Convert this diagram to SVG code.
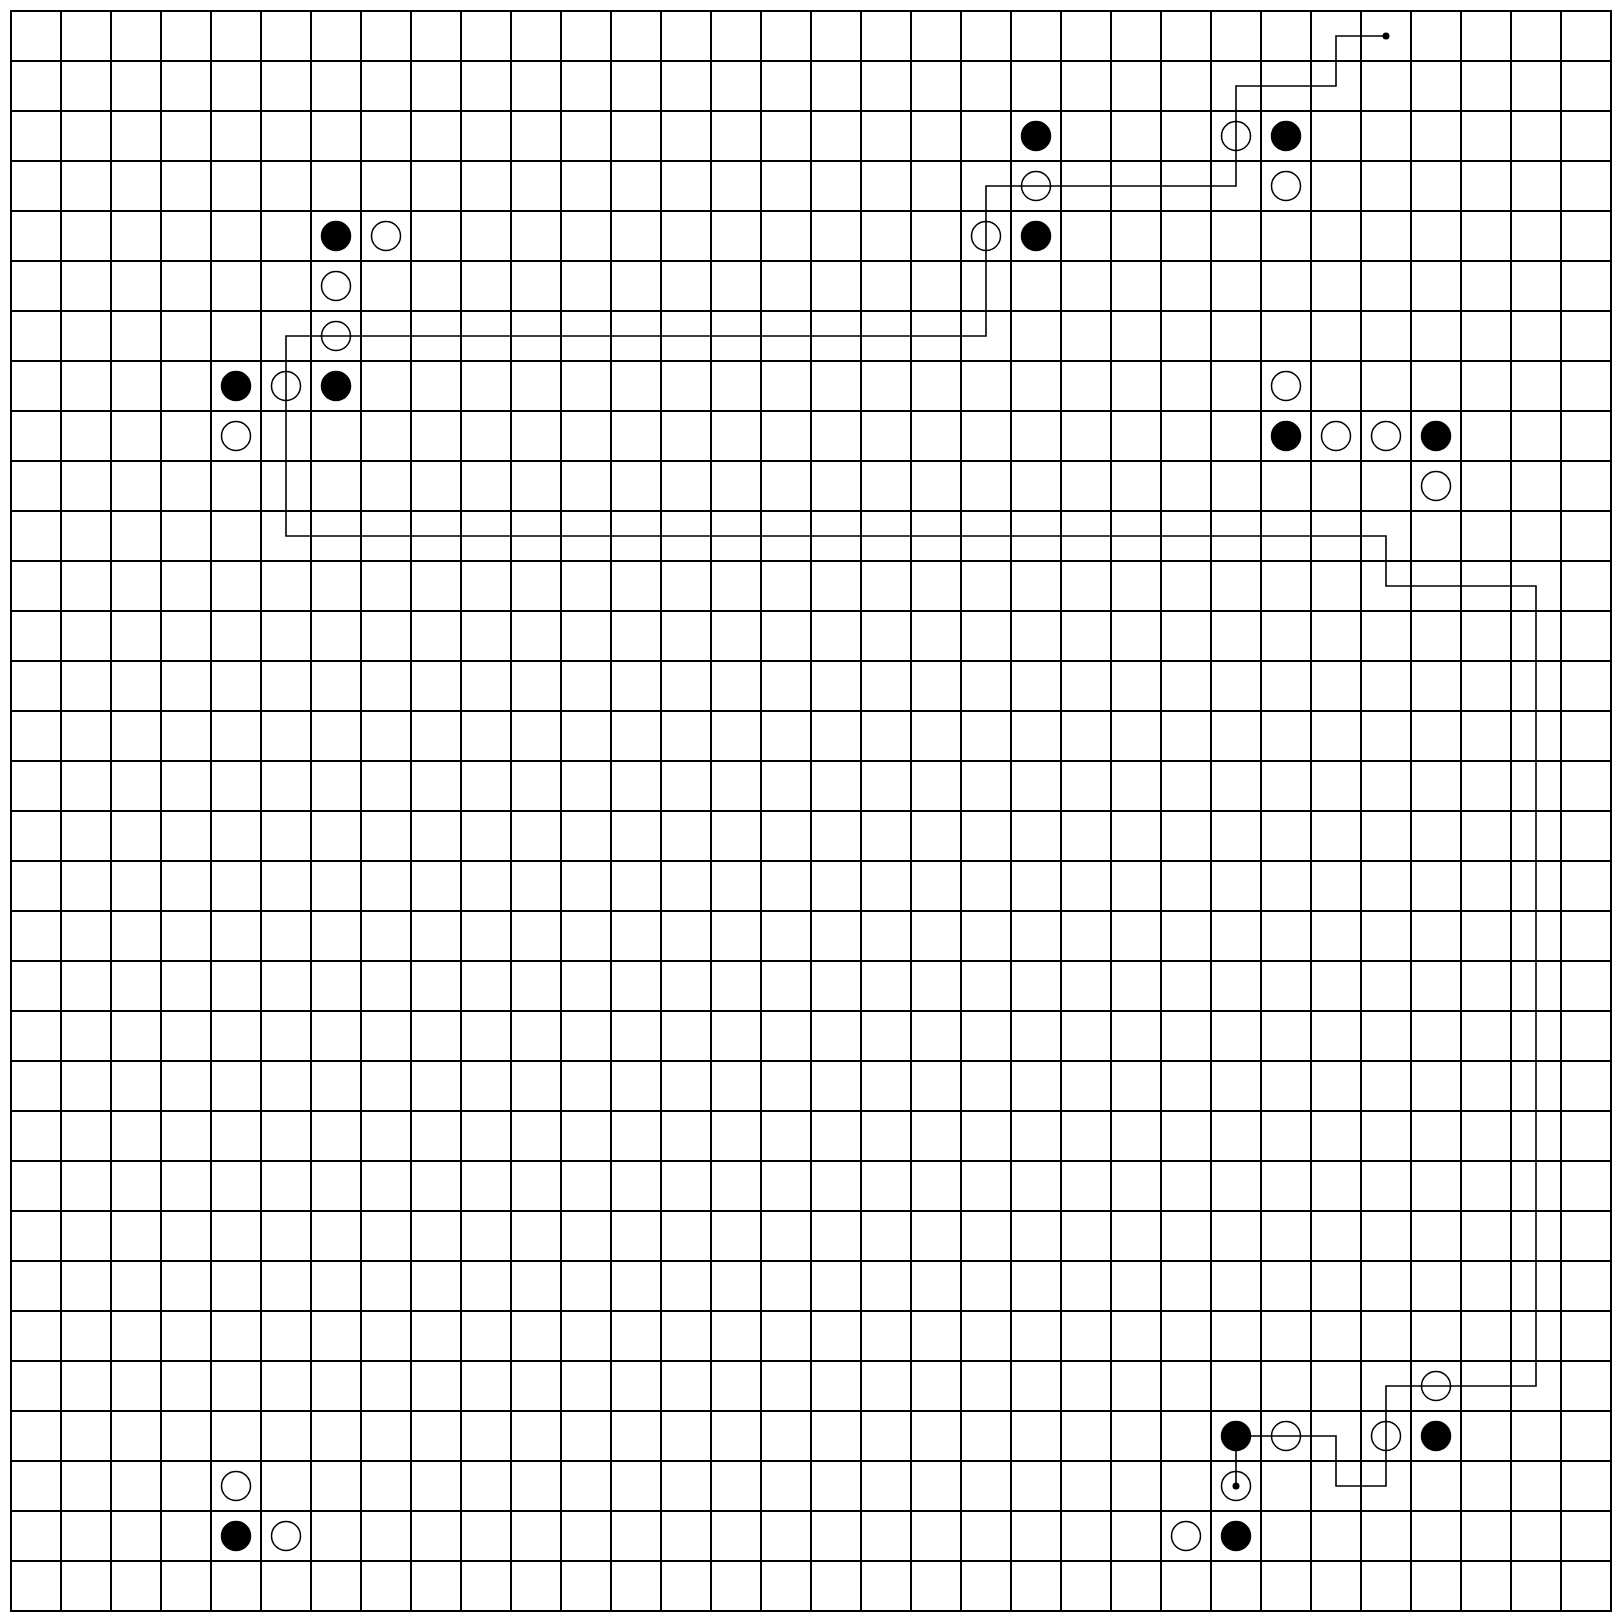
<svg xmlns="http://www.w3.org/2000/svg" width="1620" height="1620" viewBox="0 0 1620 1620">
<style>
.grid{fill:none;stroke:#000;stroke-width:2}
.b{fill:#000;stroke:#000;stroke-width:1.5}
.w{fill:none;stroke:#000;stroke-width:1.5}
.route{fill:none;stroke:#000;stroke-width:1.6}
</style>
<rect width="1620" height="1620" fill="#fff"/>
<g id="grid">
<path class="grid" d="M11 10V1612M61 10V1612M111 10V1612M161 10V1612M211 10V1612M261 10V1612M311 10V1612M361 10V1612M411 10V1612M461 10V1612M511 10V1612M561 10V1612M611 10V1612M661 10V1612M711 10V1612M761 10V1612M811 10V1612M861 10V1612M911 10V1612M961 10V1612M1011 10V1612M1061 10V1612M1111 10V1612M1161 10V1612M1211 10V1612M1261 10V1612M1311 10V1612M1361 10V1612M1411 10V1612M1461 10V1612M1511 10V1612M1561 10V1612M1611 10V1612"/>
<path class="grid" d="M10 11H1612M10 61H1612M10 111H1612M10 161H1612M10 211H1612M10 261H1612M10 311H1612M10 361H1612M10 411H1612M10 461H1612M10 511H1612M10 561H1612M10 611H1612M10 661H1612M10 711H1612M10 761H1612M10 811H1612M10 861H1612M10 911H1612M10 961H1612M10 1011H1612M10 1061H1612M10 1111H1612M10 1161H1612M10 1211H1612M10 1261H1612M10 1311H1612M10 1361H1612M10 1411H1612M10 1461H1612M10 1511H1612M10 1561H1612M10 1611H1612"/>
</g>
<g id="connectors">
<path class="route" d="M1386 36H1336V86H1236V186H986V336H286V536H1386V586H1536V1386H1386V1486H1336V1436H1236V1486"/>
<circle cx="1386" cy="36" r="3.5" fill="#000"/>
<circle cx="1236" cy="1486" r="3.5" fill="#000"/>
</g>
<g id="black">
<circle class="b" cx="1036" cy="136" r="14.5"/>
<circle class="b" cx="1286" cy="136" r="14.5"/>
<circle class="b" cx="1036" cy="236" r="14.5"/>
<circle class="b" cx="336" cy="236" r="14.5"/>
<circle class="b" cx="236" cy="386" r="14.5"/>
<circle class="b" cx="336" cy="386" r="14.5"/>
<circle class="b" cx="1286" cy="436" r="14.5"/>
<circle class="b" cx="1436" cy="436" r="14.5"/>
<circle class="b" cx="1236" cy="1436" r="14.5"/>
<circle class="b" cx="1436" cy="1436" r="14.5"/>
<circle class="b" cx="236" cy="1536" r="14.5"/>
<circle class="b" cx="1236" cy="1536" r="14.5"/>
</g>
<g id="white">
<circle class="w" cx="1236" cy="136" r="14.5"/>
<circle class="w" cx="1036" cy="186" r="14.5"/>
<circle class="w" cx="1286" cy="186" r="14.5"/>
<circle class="w" cx="386" cy="236" r="14.5"/>
<circle class="w" cx="986" cy="236" r="14.5"/>
<circle class="w" cx="336" cy="286" r="14.5"/>
<circle class="w" cx="336" cy="336" r="14.5"/>
<circle class="w" cx="286" cy="386" r="14.5"/>
<circle class="w" cx="236" cy="436" r="14.5"/>
<circle class="w" cx="1286" cy="386" r="14.5"/>
<circle class="w" cx="1336" cy="436" r="14.5"/>
<circle class="w" cx="1386" cy="436" r="14.5"/>
<circle class="w" cx="1436" cy="486" r="14.5"/>
<circle class="w" cx="1436" cy="1386" r="14.5"/>
<circle class="w" cx="1286" cy="1436" r="14.5"/>
<circle class="w" cx="1386" cy="1436" r="14.5"/>
<circle class="w" cx="236" cy="1486" r="14.5"/>
<circle class="w" cx="1236" cy="1486" r="14.5"/>
<circle class="w" cx="286" cy="1536" r="14.5"/>
<circle class="w" cx="1186" cy="1536" r="14.5"/>
</g>
</svg>
